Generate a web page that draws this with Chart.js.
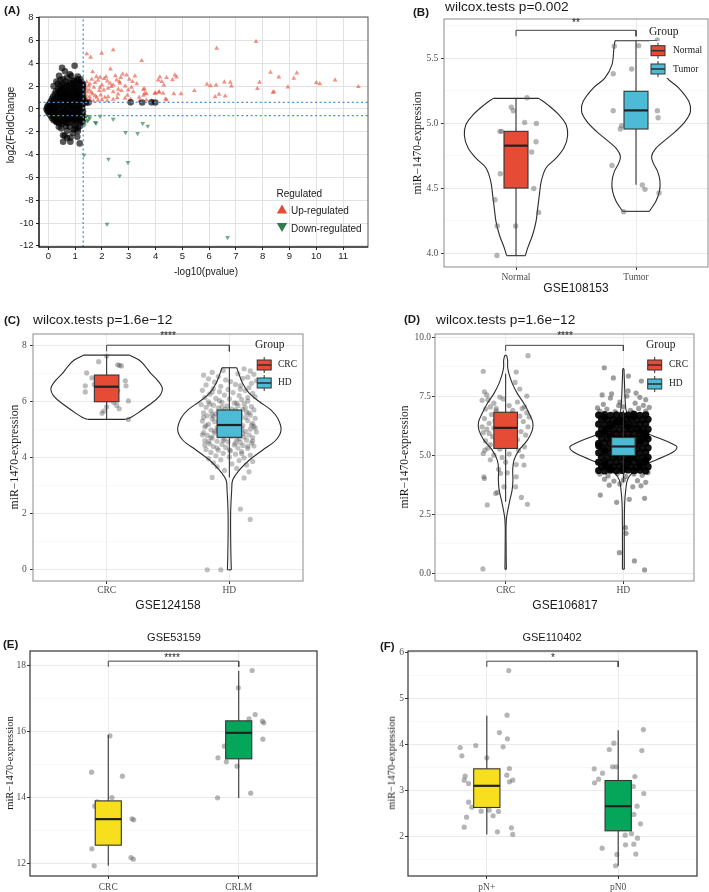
<!DOCTYPE html>
<html><head><meta charset="utf-8">
<script src="https://cdn.jsdelivr.net/npm/chart.js@4.4.1/dist/chart.umd.min.js"></script>
<style>
html,body{margin:0;padding:0;background:#fff}
body{width:709px;height:892px;position:relative;overflow:hidden;font-family:"Liberation Sans",Arial,sans-serif;color:#1a1a1a}
canvas{position:absolute}
.t{position:absolute;white-space:nowrap;line-height:1;transform:translateY(-50%)}
.t.c{transform:translate(-50%,-50%)}
.t.r{transform:translate(-50%,-50%) rotate(-90deg)}
.s{font-family:"Liberation Serif","Times New Roman",serif}
.b{font-weight:bold}
</style></head><body>
<canvas id="cA"></canvas><canvas id="cB"></canvas><canvas id="cC"></canvas>
<canvas id="cD"></canvas><canvas id="cE"></canvas><canvas id="cF"></canvas>

<div class="t b" style="left:4px;top:11px;font-size:11.5px">(A)</div>
<div class="t r" style="left:10.5px;top:125px;font-size:10px">log2(FoldChange</div>
<div class="t c" style="left:206px;top:272px;font-size:10px">-log10(pvalue)</div>
<div class="t" style="left:276.5px;top:193.5px;font-size:10px">Regulated</div>
<div class="t" style="left:291px;top:211px;font-size:10px">Up-regulated</div>
<div class="t" style="left:291px;top:228.5px;font-size:10px">Down-regulated</div>

<div class="t b" style="left:413px;top:13px;font-size:11.5px">(B)</div>
<div class="t" style="left:445px;top:7px;font-size:13.7px">wilcox.tests p=0.002</div>
<div class="t r s" style="left:418px;top:143px;font-size:11.6px">miR−1470-expression</div>
<div class="t c" style="left:576px;top:288px;font-size:12px">GSE108153</div>
<div class="t s" style="left:649px;top:31.5px;font-size:11.5px">Group</div>
<div class="t s" style="left:673px;top:51px;font-size:9.5px">Normal</div>
<div class="t s" style="left:673px;top:69.5px;font-size:9.5px">Tumor</div>
<div class="t c" style="left:576px;top:23px;font-size:10px">**</div>

<div class="t b" style="left:4px;top:321px;font-size:11.5px">(C)</div>
<div class="t" style="left:33px;top:320px;font-size:13.7px">wilcox.tests p=1.6e−12</div>
<div class="t r s" style="left:15px;top:457px;font-size:11.8px">miR−1470-expression</div>
<div class="t c" style="left:168px;top:605px;font-size:12px">GSE124158</div>
<div class="t s" style="left:255px;top:345px;font-size:11.5px">Group</div>
<div class="t s" style="left:278px;top:365px;font-size:9.5px">CRC</div>
<div class="t s" style="left:278px;top:383px;font-size:9.5px">HD</div>
<div class="t c" style="left:168px;top:336px;font-size:10px">****</div>

<div class="t b" style="left:404px;top:320px;font-size:11.5px">(D)</div>
<div class="t" style="left:436px;top:320px;font-size:13.7px">wilcox.tests p=1.6e−12</div>
<div class="t r s" style="left:405px;top:457px;font-size:11.6px">miR−1470-expression</div>
<div class="t c" style="left:565px;top:605px;font-size:12px">GSE106817</div>
<div class="t s" style="left:646px;top:345px;font-size:11.5px">Group</div>
<div class="t s" style="left:669px;top:365px;font-size:9.5px">CRC</div>
<div class="t s" style="left:669px;top:384px;font-size:9.5px">HD</div>
<div class="t c" style="left:565px;top:336px;font-size:10px">****</div>

<div class="t b" style="left:3px;top:645px;font-size:11.5px">(E)</div>
<div class="t c" style="left:174px;top:637px;font-size:11px">GSE53159</div>
<div class="t r s" style="left:10px;top:763px;font-size:10.5px">miR−1470-expression</div>
<div class="t c" style="left:172px;top:658px;font-size:10px">****</div>

<div class="t b" style="left:380px;top:647px;font-size:11.5px">(F)</div>
<div class="t c" style="left:552px;top:637px;font-size:11px">GSE110402</div>
<div class="t r s" style="left:392px;top:763px;font-size:10.5px">miR−1470-expression</div>
<div class="t c" style="left:553px;top:658px;font-size:10px">*</div>

<script>
// ================= DATA =================
// Panel A (volcano): flat [x, y] pairs, x = -log10(p), y = log2(FC)
const xTicksA = [0,1,2,3,4,5,6,7,8,9,10,11];
const yTicksA = [-12,-10,-8,-6,-4,-2,0,2,4,6,8];
const pThreshold = 1.3;
const fcThreshold = 0.585;
const volcanoUp = [
6.28,5.32, 7.75,5.9, 8.29,3.2, 8.6,2.8, 9.27,3.15, 9.16,2.68, 8.94,1.92, 7.88,2.33, 7.8,1.78, 8.38,1.45, 8.42,1.5,
10.0,2.3, 10.13,2.2, 10.7,2.53, 11.57,1.95, 5.92,2.16, 6.05,2.03, 6.26,2.1, 6.57,2.36, 6.79,2.33, 6.83,2.0,
6.37,1.28, 6.22,1.07, 6.6,1.13, 5.45,1.6, 4.95,1.33, 4.68,1.33, 4.72,2.97, 4.78,2.8, 4.63,2.56, 4.41,2.74,
4.16,2.8, 4.1,2.53, 4.23,2.39, 4.31,2.1, 4.0,1.39, 4.13,1.45, 4.41,0.8, 3.59,1.75, 3.66,1.33, 3.48,4.23, 3.55,1.2,
1.43,4.82, 1.58,4.53, 1.99,4.88, 2.42,5.17, 1.65,3.26, 2.32,3.5, 2.77,3.06, 2.92,2.97, 3.23,2.89, 1.93,2.77,
2.08,2.65, 2.15,2.82, 1.79,2.82, 2.55,2.53, 2.65,2.39, 3.02,2.6, 3.14,2.39, 2.3,2.25, 2.42,2.1, 2.67,2.25,
2.87,2.0, 1.43,2.39, 1.55,2.18, 1.74,2.3, 1.4,1.8, 1.53,1.66, 1.7,1.9, 1.93,1.9, 2.07,1.66, 2.23,1.8,
2.42,1.51, 2.61,1.72, 2.73,1.6, 2.98,1.66, 3.1,1.9, 3.17,1.51, 3.54,1.72, 3.6,1.37, 3.97,1.37, 4.13,1.51,
4.28,1.37, 4.37,0.87, 1.4,1.22, 1.53,1.07, 1.65,1.31, 1.8,1.02, 1.95,1.22, 2.11,1.02, 2.23,1.07, 2.42,0.84,
2.57,0.98, 1.37,0.78, 1.45,0.72, 1.55,0.84, 1.68,0.69, 2.86,0.93, 3.07,0.84, 3.39,1.02, 3.66,0.78, 3.85,0.72,
3.91,0.62, 1.45,1.5, 1.6,1.45, 1.5,2.0, 1.62,2.6, 1.85,2.5, 2.0,2.1, 2.2,2.45, 2.5,2.9, 2.7,2.75, 2.35,1.95,
1.9,1.6, 1.75,1.15, 1.4,0.95, 2.0,0.8, 2.6,1.3, 2.95,1.2, 3.3,2.2, 3.4,0.7, 2.2,0.7, 1.85,0.75
];
const volcanoDown = [
1.42,-0.62, 1.5,-0.66, 1.48,-0.97, 1.35,-1.41, 1.45,-1.06, 1.75,-1.18, 1.93,-0.64, 2.42,-0.89, 2.88,-2.05,
3.33,-2.14, 3.52,-1.26, 3.71,-1.5, 1.33,-4.04, 2.24,-4.39, 2.97,-4.68, 2.66,-5.86, 2.19,-10.1, 6.69,-11.26,
1.55,-0.78, 1.78,-1.25
];
const volcanoNS = [
-0.07,0.0, -0.04,0.18, -0.04,-0.16, 0.0,0.32, 0.0,-0.3, 0.02,0.08, 0.03,-0.1, 0.05,0.48, 0.05,-0.47, 0.07,0.22,
0.08,-0.25, 0.09,0.68, 0.1,-0.62, 0.11,0.02, 0.12,0.38, 0.13,-0.4, 0.14,0.88, 0.14,-0.82, 0.16,0.15, 0.17,-0.12,
0.18,0.55, 0.18,1.08, 0.2,-0.55, 0.2,-0.98, 0.21,0.3, 0.22,0.78, 0.23,-0.28, 0.24,1.3, 0.25,0.05, 0.26,-0.72,
0.27,0.48, 0.28,1.55, 0.29,-0.45, 0.3,0.95, 0.31,-1.15, 0.32,0.2, 0.33,1.2, 0.34,-0.15, 0.35,0.65, 0.36,1.75,
0.37,-0.88, 0.38,0.38, 0.4,1.45, 0.41,-0.5, 0.42,0.05, 0.43,0.85, 0.44,2.0, 0.45,-0.3, 0.46,1.1, 0.47,-0.72,
0.48,0.55, 0.5,1.7, 0.5,-1.05, 0.52,0.25, 0.53,1.3, 0.54,-0.48, 0.55,0.8, 0.56,2.2, 0.57,-0.25, 0.58,1.55,
0.6,0.45, 0.6,-0.75, 0.62,1.05, 0.63,1.9, 0.64,-0.5, 0.66,0.68, 0.67,1.4, 0.68,-0.95, 0.7,2.1, 0.7,0.9,
0.72,-0.42, 0.73,1.65, 0.75,0.6, 0.76,1.25, 0.78,-0.65, 0.8,2.3, 0.8,0.82, 0.82,1.5, 0.84,-0.45, 0.85,1.05,
0.87,1.85, 0.88,0.68, 0.9,-0.58, 0.9,2.5, 0.92,1.3, 0.94,0.85, 0.95,2.05, 0.97,-0.42, 0.98,1.6, 1.0,0.7,
1.0,2.3, 1.02,1.15, 1.04,-0.55, 1.05,1.85, 1.07,0.9, 1.08,2.6, 1.1,1.4, 1.12,-0.45, 1.13,0.72, 1.14,2.1,
1.16,1.2, 1.17,1.75, 1.19,-0.6, 1.2,0.85, 1.21,2.35, 1.23,1.5, 1.24,0.65, 1.26,-0.48, 1.27,1.05, 1.28,2.0,
1.29,1.7, 1.3,0.75,
0.55,0.1, 0.6,-0.15, 0.65,0.3, 0.7,0.05, 0.72,-0.25, 0.78,0.2, 0.8,-0.1, 0.85,0.35, 0.88,0.0, 0.92,-0.25,
0.95,0.2, 1.0,-0.05, 1.02,0.35, 1.06,0.1, 1.1,-0.2, 1.13,0.25, 1.17,0.0, 1.2,-0.3, 1.23,0.3, 1.26,0.05,
1.29,-0.2, 0.5,-0.35, 0.66,-0.4, 0.9,0.45, 1.15,0.45, 0.75,0.42, 1.05,-0.38, 1.28,0.4,
0.38,1.0, 0.45,1.35, 0.52,0.95, 0.58,1.8, 0.64,0.8, 0.69,1.2, 0.74,2.0, 0.79,1.0, 0.83,1.75, 0.86,2.2,
0.89,1.15, 0.93,1.55, 0.96,0.95, 0.99,1.9, 1.03,1.35, 1.06,2.45, 1.09,1.05, 1.11,1.6, 1.15,0.95, 1.18,2.2,
1.22,1.25, 1.25,1.85, 1.28,1.4, 1.3,2.15, 1.3,0.95, 0.6,1.25, 0.5,2.05, 0.42,1.6, 0.56,1.05, 0.71,1.55,
0.6,-0.55, 0.7,-0.7, 0.85,-0.6, 0.95,-0.7, 1.05,-0.8, 1.15,-0.6, 1.25,-0.9, 0.8,-0.85, 0.65,-1.2, 0.9,-1.0,
1.1,-1.0, 1.3,-0.6,
0.51,3.6, 0.98,3.79, 0.8,3.03, 0.62,3.3, 0.4,2.9, 0.55,2.6, 0.7,2.75, 0.85,2.9, 0.95,2.45, 1.1,2.85,
1.2,2.6, 0.3,2.4, 0.2,2.0, 0.65,2.4, 1.25,2.3, 0.35,2.2, 0.45,2.55,
0.3,-1.12, 0.48,-1.7, 0.55,-2.3, 0.55,-2.87, 0.82,-2.87, 0.61,-2.35, 0.83,-2.5, 1.08,-2.44, 1.17,-3.02, 1.1,-1.7,
1.1,-1.94, 0.98,-1.41, 0.73,-1.26, 0.39,-1.56, 0.5,-1.3, 0.65,-1.5, 0.7,-1.9, 0.9,-1.2, 0.95,-1.8, 1.0,-0.95,
1.15,-0.8, 1.2,-1.2, 1.25,-0.72, 0.75,-0.95, 0.88,-0.78, 1.05,-1.15, 0.45,-1.05, 1.18,-1.5, 1.28,-1.1, 0.92,-2.1,
0.7,-2.55, 0.58,-1.1, 0.8,-1.55, 1.02,-1.7, 1.22,-0.95, 0.4,-1.25, 0.25,-0.95,
1.4,0.55, 1.5,0.56, 3.07,0.58, 3.5,0.57, 3.85,0.58, 3.99,0.56
];

// Panel B (GSE108153)
const groupsB = ['Normal','Tumor'];
const yTicksB = [4.0,4.5,5.0,5.5];
const yLabelsB = ['4.0','4.5','5.0','5.5'];
const pointsNormalB = [1.092,5.195, 0.961,5.121, 0.978,5.095, 1.072,5.005, 1.17,4.997, 0.866,4.936, 0.88,4.936, 1.167,4.856,
 1.131,4.777, 0.869,4.61, 1.148,4.497, 0.825,4.41, 1.189,4.313, 0.844,4.208, 0.997,4.208, 0.841,3.982];
const pointsTumorB = [1.819,5.59, 2.022,5.595, 2.178,5.638, 1.81,5.379, 1.964,5.415, 1.81,5.095, 2.178,5.095, 2.184,5.041,
 1.88,4.979, 1.869,4.954, 1.8,4.674, 2.053,4.523, 2.075,4.49, 2.192,4.462, 1.897,4.318];
// box stats: [lower whisker, Q1, median, Q3, upper whisker]
const boxNormalB = [3.98,4.5,4.826,4.936,5.19];
const boxTumorB = [4.526,4.954,5.097,5.244,5.633];
// violin outlines: [y, half-width]
const violinNormalB = [[5.19,0.19],[5.14,0.265],[5.064,0.357],[4.987,0.418],[4.9,0.43],[4.81,0.4],[4.73,0.334],[4.654,0.25],
 [4.55,0.21],[4.449,0.195],[4.346,0.181],[4.244,0.167],[4.141,0.139],[4.038,0.097],[3.98,0.078]];
const violinTumorB = [[5.633,0.175],[5.577,0.184],[5.449,0.2],[5.346,0.26],[5.269,0.357],[5.167,0.44],[5.09,0.454],[5.013,0.41],
 [4.936,0.33],[4.859,0.23],[4.8,0.16],[4.744,0.13],[4.69,0.145],[4.628,0.18],[4.551,0.2],[4.474,0.195],[4.397,0.165],[4.321,0.111]];
const bracketB = [5.667,5.713];

// Panel C (GSE124158)
const groupsC = ['CRC','HD'];
const yTicksC = [0,2,4,6,8];
const yLabelsC = ['0','2','4','6','8'];
const pointsCrcC = [1.0,7.63, 0.935,7.43, 1.09,7.32, 1.105,7.3, 0.837,7.03, 1.152,6.75, 0.826,6.57, 1.158,6.57, 0.826,6.35,
 1.09,6.4, 1.177,6.03, 1.057,5.97, 1.082,5.87, 1.103,5.75, 1.0,5.82, 0.962,5.59, 1.177,5.37, 0.976,5.67, 0.9,6.62,
 0.95,6.25, 1.05,6.78, 0.88,6.85, 1.12,7.28, 1.03,6.1];
const pointsHdC = [
2.12,7.18, 2.17,7.1, 1.86,7.05, 1.95,7.12, 2.2,6.98, 1.79,6.95, 1.91,6.9, 2.07,7.0, 2.15,6.88, 1.83,6.82, 1.97,6.78,
2.11,6.84, 2.22,6.75, 1.88,6.7, 2.01,6.72, 2.05,6.62, 2.18,6.66, 1.81,6.6, 1.93,6.55, 2.09,6.58, 2.16,6.5, 1.87,6.47,
1.99,6.44, 2.13,6.4, 1.78,6.41, 1.92,6.36, 2.03,6.33, 2.19,6.3, 1.84,6.27, 1.96,6.24, 2.08,6.22, 2.21,6.18, 1.8,6.15,
1.89,6.12, 2.0,6.1, 2.1,6.08, 2.15,6.02, 1.83,6.0, 1.94,5.98, 2.04,5.96, 2.12,5.93, 1.77,5.9, 1.87,5.88, 1.98,5.85,
2.07,5.86, 2.18,5.83, 1.81,5.8, 1.91,5.78, 2.02,5.75, 2.11,5.73, 2.2,5.71, 1.85,5.68, 1.95,5.66, 2.06,5.64, 2.14,5.62,
1.79,5.6, 1.89,5.58, 1.99,5.55, 2.09,5.54, 2.17,5.52, 1.82,5.5, 1.92,5.47, 2.03,5.45, 2.13,5.44, 2.21,5.41, 1.86,5.39,
1.96,5.37, 2.05,5.35, 2.15,5.33, 1.78,5.31, 1.88,5.29, 1.98,5.27, 2.08,5.25, 2.19,5.23, 1.83,5.2, 1.93,5.18, 2.01,5.16,
2.11,5.15, 2.2,5.12, 1.8,5.1, 1.9,5.08, 2.0,5.06, 2.1,5.04, 2.17,5.02, 1.85,5.0, 1.95,4.98, 2.04,4.96, 2.13,4.94,
2.22,4.92, 1.79,4.9, 1.88,4.88, 1.97,4.86, 2.07,4.84, 2.16,4.82, 1.82,4.8, 1.92,4.78, 2.02,4.76, 2.12,4.74, 2.19,4.72,
1.86,4.7, 1.96,4.67, 2.06,4.65, 2.14,4.63, 1.8,4.61, 1.9,4.59, 1.99,4.57, 2.09,4.55, 2.18,4.53, 1.84,4.5, 1.94,4.48,
2.04,4.46, 2.11,4.44, 2.2,4.42, 1.87,4.4, 1.97,4.37, 2.07,4.35, 2.15,4.33, 1.81,4.3, 1.91,4.27, 2.01,4.25, 2.1,4.22,
1.85,4.19, 1.95,4.16, 2.05,4.13, 2.17,4.1, 1.89,4.07, 2.0,4.03, 2.12,4.0, 1.83,3.97, 1.93,3.93, 2.08,3.9, 2.19,3.87,
1.87,3.82, 2.02,3.78, 2.14,3.74, 1.9,3.68, 2.06,3.62, 1.96,3.55, 2.16,3.5, 1.86,3.3, 2.12,3.28,
1.84,5.92, 1.94,5.81, 2.05,5.71, 2.16,5.6, 1.87,5.48, 1.97,5.43, 2.07,5.32, 2.18,5.17, 1.81,5.15, 1.91,5.02, 2.02,4.93,
2.11,4.87, 1.85,4.73, 1.95,4.62, 2.05,4.52, 2.15,4.41, 1.8,4.45, 1.9,4.35, 2.0,4.28, 2.1,4.15, 1.86,5.55, 2.0,5.62,
2.09,5.4, 1.93,5.25, 2.03,5.1, 1.88,4.95, 1.98,4.82, 2.08,4.69, 1.83,4.58, 2.13,5.78, 1.79,5.44, 2.21,5.06, 1.78,4.82,
2.19,4.6, 1.92,6.04, 2.06,5.95, 1.97,5.73, 2.15,6.15, 1.86,6.35, 2.09,6.45,
2.09,2.17, 2.17,1.8, 1.82,0.0, 1.93,0.0];
const boxCrcC = [5.372,6.0,6.537,6.954,7.667];
const boxHdC = [3.3,4.73,5.17,5.705,7.215];
const violinCrcC = [[7.667,0.185],[7.489,0.264],[7.25,0.318],[7.013,0.36],[6.775,0.413],[6.478,0.454],[6.181,0.427],
 [5.883,0.345],[5.586,0.25],[5.45,0.2],[5.372,0.155]];
const violinHdC = [[7.215,0.06],[7.013,0.076],[6.656,0.109],[6.3,0.163],[6.002,0.245],[5.705,0.34],[5.408,0.394],[4.992,0.421],
 [4.635,0.38],[4.278,0.272],[3.922,0.163],[3.565,0.082],[3.208,0.027],[2.851,0.019],[2.138,0.011],[1.425,0.01],[0.473,0.013],[0.0,0.016]];
const bracketC = [7.8,8.02];

// Panel D (GSE106817)
const groupsD = ['CRC','HD'];
const yTicksD = [0,2.5,5,7.5,10];
const yLabelsD = ['0.0','2.5','5.0','7.5','10.0'];
const pointsCrcD = [0.807,0.18, 1.19,9.21, 0.81,8.55, 1.09,8.52, 1.08,8.08, 0.82,7.68, 0.8,7.32, 0.95,7.46, 0.87,7.04, 1.14,6.97,
 1.2,6.62, 0.8,6.2, 0.86,5.92, 0.85,7.35, 0.9,7.2, 0.98,7.38, 1.03,7.1, 1.1,7.25, 1.16,7.05, 0.83,6.95, 0.92,6.88,
 1.06,6.9, 1.18,6.8, 0.88,6.72, 0.96,6.6, 1.12,6.65, 0.82,6.55, 0.91,6.45, 1.04,6.5, 1.15,6.42, 0.86,6.35, 0.99,6.3,
 1.08,6.25, 1.19,6.2, 0.84,6.1, 0.94,6.05, 1.13,6.0, 0.81,5.95, 1.02,5.9, 1.17,5.85, 0.89,5.78, 0.97,5.7, 1.1,5.65,
 0.83,5.6, 0.93,5.5, 1.06,5.45, 1.16,5.35, 0.85,5.3, 0.95,5.25, 1.11,5.2, 0.824,5.21, 0.81,5.07, 0.9,5.0, 1.03,5.05,
 1.14,4.95, 0.87,4.8, 1.0,4.7, 1.09,4.6, 1.156,4.58, 0.94,4.4, 0.815,4.08, 0.82,4.01, 0.957,4.23, 1.014,4.25, 1.09,4.08,
 0.915,3.38, 0.93,3.42, 1.134,3.21, 0.844,2.89, 1.185,2.92, 1.085,3.66, 0.986,3.66, 0.92,6.98, 1.05,6.75, 0.98,5.55,
 1.07,5.8, 0.9,6.15, 1.01,6.4, 0.87,5.45, 1.18,7.5, 0.84,7.55, 1.12,7.8, 0.97,4.9];
const pointsHdCoreD = [
1.79,6.7, 1.84,6.72, 1.89,6.69, 1.94,6.71, 1.99,6.68, 2.04,6.7, 2.09,6.73, 2.14,6.69, 2.19,6.71,
1.815,6.52, 1.865,6.49, 1.915,6.51, 1.965,6.48, 2.015,6.5, 2.065,6.53, 2.115,6.49, 2.165,6.5, 2.21,6.52,
1.79,6.31, 1.84,6.28, 1.89,6.3, 1.94,6.32, 1.99,6.29, 2.04,6.31, 2.09,6.28, 2.14,6.3, 2.19,6.33,
1.815,6.09, 1.865,6.12, 1.915,6.1, 1.965,6.08, 2.015,6.11, 2.065,6.1, 2.115,6.12, 2.165,6.09, 2.21,6.1,
1.79,5.9, 1.84,5.92, 1.89,5.89, 1.94,5.91, 1.99,5.88, 2.04,5.9, 2.09,5.93, 2.14,5.89, 2.19,5.91,
1.815,5.71, 1.865,5.69, 1.915,5.72, 1.965,5.7, 2.015,5.68, 2.065,5.71, 2.115,5.7, 2.165,5.72, 2.21,5.69,
1.79,5.5, 1.84,5.52, 1.89,5.49, 1.94,5.51, 1.99,5.5, 2.04,5.48, 2.09,5.51, 2.14,5.5, 2.19,5.52,
1.815,5.31, 1.865,5.29, 1.915,5.3, 1.965,5.32, 2.015,5.29, 2.065,5.31, 2.115,5.28, 2.165,5.3, 2.21,5.31,
1.79,5.1, 1.84,5.12, 1.89,5.09, 1.94,5.11, 1.99,5.1, 2.04,5.08, 2.09,5.11, 2.14,5.1, 2.19,5.12,
1.815,4.91, 1.865,4.89, 1.915,4.9, 1.965,4.92, 2.015,4.89, 2.065,4.91, 2.115,4.88, 2.165,4.9, 2.21,4.91,
1.79,4.7, 1.84,4.72, 1.89,4.69, 1.94,4.71, 1.99,4.7, 2.04,4.68, 2.09,4.71, 2.14,4.7, 2.19,4.72,
1.815,4.51, 1.865,4.49, 1.915,4.5, 1.965,4.52, 2.015,4.49, 2.065,4.51, 2.115,4.48, 2.165,4.5, 2.21,4.51,
1.79,4.35, 1.84,4.33, 1.89,4.36, 1.94,4.34, 1.99,4.35, 2.04,4.37, 2.09,4.34, 2.14,4.36, 2.19,4.33,
1.84,6.6, 1.94,6.4, 2.04,6.2, 2.14,6.0, 1.89,5.8, 1.99,5.6, 2.09,5.4, 1.84,5.2, 1.94,5.0, 2.04,4.8, 2.14,4.6, 1.89,4.42,
2.09,6.62, 1.99,6.42, 1.89,6.2, 1.84,6.0, 2.19,5.8, 2.14,5.6, 1.79,5.4, 1.99,5.22, 2.09,5.0, 2.19,4.8, 1.84,4.6, 2.0,4.42];
const pointsHdOuterD = [
1.838,8.7, 1.915,8.27, 2.043,8.35, 2.153,8.14, 1.9,7.6, 2.04,7.72, 2.108,7.63, 2.17,7.11, 1.83,7.15, 1.97,7.25, 2.1,7.2,
2.19,7.35, 1.89,7.42, 2.03,7.5, 1.82,7.55, 2.14,7.45, 1.78,7.0, 1.86,6.95, 1.93,6.84, 2.0,7.05, 2.06,6.9, 2.13,6.98,
2.19,6.86, 2.22,7.02, 1.8,6.86, 1.96,7.1, 2.08,6.8,
1.8,4.2, 1.87,4.12, 1.95,4.22, 2.02,4.1, 2.09,4.2, 2.16,4.15, 2.21,4.26, 1.84,3.98, 1.92,3.9, 2.0,3.95, 2.12,3.92,
2.19,3.85, 1.88,3.73, 2.08,3.66, 1.97,3.78, 2.15,3.7, 1.804,3.31, 1.943,3.0, 2.05,3.13, 2.18,3.17, 2.017,1.93,
2.023,1.69, 1.966,0.87, 2.094,0.52, 2.18,0.14];
const boxCrcD = [3.03,5.282,6.155,6.817,8.45];
const boxHdD = [3.85,4.986,5.366,5.746,6.9];
const violinCrcD = [[9.225,0.008],[9.014,0.017],[8.732,0.017],[8.451,0.028],[8.028,0.057],[7.606,0.1],[7.183,0.156],[6.761,0.2],
 [6.408,0.23],[6.056,0.227],[5.634,0.185],[5.211,0.114],[4.789,0.071],[4.366,0.06],[3.944,0.062],[3.521,0.055],[2.958,0.03],
 [2.254,0.006],[1.127,0.004],[0.169,0.006]];
const violinHdD = [[8.662,0.005],[7.465,0.014],[7.183,0.017],[6.901,0.023],[6.62,0.043],[6.268,0.085],[5.986,0.17],[5.704,0.31],
 [5.493,0.41],[5.352,0.455],[5.141,0.426],[4.93,0.34],[4.718,0.24],[4.507,0.142],[4.225,0.071],[3.944,0.034],[3.521,0.02],
 [2.958,0.011],[1.831,0.008],[0.169,0.008]];
const bracketD = [9.41,9.65];

// Panel E (GSE53159)
const groupsE = ['CRC','CRLM'];
const yTicksE = [12,14,16,18];
const yLabelsE = ['12','14','16','18'];
const pointsCrcE = [1.013,15.875, 0.872,14.772, 1.108,14.651, 1.028,14.003, 0.915,13.87, 0.897,13.74, 1.182,13.356, 1.195,13.325,
 0.874,12.445, 1.174,12.182, 1.192,12.131, 0.892,11.929];
const pointsCrlmE = [2.103,17.858, 1.997,17.332, 2.126,16.523, 2.079,16.391, 2.182,16.32, 2.192,16.27, 2.185,15.774, 1.89,15.561,
 1.841,15.207, 1.905,15.086, 1.987,14.955, 2.092,14.135, 1.838,13.993];
const boxCrcE = [11.93,12.556,13.346,13.9,15.9];
const boxCrlmE = [13.99,15.177,15.966,16.33,17.84];
const bracketE = [17.97,18.142];

// Panel F (GSE110402)
const groupsF = ['pN+','pN0'];
const yTicksF = [2,3,4,5,6];
const yLabelsF = ['2','3','4','5','6'];
const pointsPosF = [1.167,5.609, 1.154,4.64, 1.096,4.264, 1.157,4.127, 0.797,3.939, 0.916,3.982, 1.124,3.953, 0.81,3.758, 1.0,3.714,
 1.172,3.483, 1.152,3.338, 0.835,3.317, 0.828,3.23, 1.197,3.23, 1.172,3.194, 0.861,3.157, 0.861,2.752, 0.886,2.644, 0.957,2.557,
 1.018,2.579, 1.089,2.55, 1.048,2.456, 0.846,2.427, 0.828,2.21, 1.187,2.195, 1.081,2.108, 1.197,2.051];
const pointsNegF = [2.192,4.329, 1.967,4.033, 1.932,3.895, 2.18,3.873, 1.985,3.519, 1.957,3.519, 1.818,3.476, 1.881,3.382, 1.851,3.251,
 1.82,3.172, 2.127,3.309, 2.116,3.092, 2.195,2.94, 2.144,2.665, 2.119,2.485, 2.17,2.282, 2.101,2.072, 2.053,2.036, 2.147,1.971,
 2.119,1.841, 2.056,1.826, 1.878,1.754, 1.99,1.617, 2.134,1.624, 1.98,1.371];
const boxPosF = [2.051,2.637,3.107,3.476,4.626];
const boxNegF = [1.371,2.13,2.665,3.222,4.315];
const bracketF = [5.689,5.812];

// ================= RENDERING =================
const SANS = "'Liberation Sans', Arial, sans-serif";
const SERIF = "'Liberation Serif', 'Times New Roman', serif";
const RED = '#E64B35', BLUE = '#4DBBD5', YELLOW = '#F7DF1E', GREEN = '#05A65A';

function pairs(a){ const o=[]; for(let i=0;i<a.length;i+=2) o.push({x:a[i],y:a[i+1]}); return o; }

function place(id,L,T,R,B,wy,hx){
  const padT=10,padR=8;
  const cv=document.getElementById(id);
  const left=L-wy, top=T-padT, w=R+padR-left, h=B+hx-top;
  cv.width=w; cv.height=h;
  cv.style.left=left+'px'; cv.style.top=top+'px'; cv.style.width=w+'px'; cv.style.height=h+'px';
  return {cv,left,top,wy,hx,padT,padR};
}

let extraCount=0;
function extras(cfg){
  extraCount++;
  return {
    id:'extras'+extraCount,
    afterDatasetsDraw(chart){
      const {ctx, scales:{x,y}} = chart;
      ctx.save();
      (cfg.boxes||[]).forEach(b=>{
        const xc=x.getPixelForValue(b.pos), x0=x.getPixelForValue(b.pos-0.1), x1=x.getPixelForValue(b.pos+0.1);
        const [lo,q1,md,q3,hi]=b.stats.map(v=>y.getPixelForValue(v));
        ctx.strokeStyle='#333'; ctx.lineWidth=1.1;
        ctx.beginPath(); ctx.moveTo(xc,lo); ctx.lineTo(xc,q1); ctx.moveTo(xc,q3); ctx.lineTo(xc,hi); ctx.stroke();
        ctx.fillStyle=b.color; ctx.fillRect(x0,q3,x1-x0,q1-q3); ctx.strokeRect(x0,q3,x1-x0,q1-q3);
        ctx.lineWidth=2.2; ctx.strokeStyle='#222';
        ctx.beginPath(); ctx.moveTo(x0,md); ctx.lineTo(x1,md); ctx.stroke();
      });
      ctx.restore();
    },
    afterDraw(chart){
      const {ctx, chartArea:a} = chart;
      const ox=cfg.origin[0], oy=cfg.origin[1];
      ctx.save();
      if(cfg.legendBg){ const r=cfg.legendBg; ctx.fillStyle='#fff'; ctx.fillRect(r[0]-ox,r[1]-oy,r[2],r[3]); }
      ctx.strokeStyle=cfg.borderColor; ctx.lineWidth=cfg.borderWidth;
      ctx.strokeRect(a.left,a.top,a.right-a.left,a.bottom-a.top);
      if(cfg.axisColor){
        ctx.strokeStyle=cfg.axisColor; ctx.lineWidth=1.1;
        ctx.beginPath(); ctx.moveTo(a.left,a.top); ctx.lineTo(a.left,a.bottom); ctx.lineTo(a.right,a.bottom); ctx.stroke();
      }
      (cfg.keys||[]).forEach(k=>{
        const cx=k.x-ox, cy=k.y-oy;
        ctx.strokeStyle='#333'; ctx.lineWidth=1;
        ctx.beginPath(); ctx.moveTo(cx,cy-8); ctx.lineTo(cx,cy-5); ctx.moveTo(cx,cy+5); ctx.lineTo(cx,cy+8); ctx.stroke();
        ctx.fillStyle=k.color; ctx.fillRect(cx-7,cy-5,14,10); ctx.strokeRect(cx-7,cy-5,14,10);
        ctx.lineWidth=1.6; ctx.beginPath(); ctx.moveTo(cx-7,cy); ctx.lineTo(cx+7,cy); ctx.stroke();
      });
      (cfg.tris||[]).forEach(t=>{
        const cx=t.x-ox, cy=t.y-oy, s=t.down?-1:1;
        ctx.fillStyle=t.color; ctx.beginPath();
        ctx.moveTo(cx, cy-5.5*s); ctx.lineTo(cx+5.2, cy+3.5*s); ctx.lineTo(cx-5.2, cy+3.5*s); ctx.closePath(); ctx.fill();
      });
      ctx.restore();
    }
  };
}

function baseOptions(p, xs, ys){
  return {
    responsive:false, animation:false, devicePixelRatio:1,
    layout:{padding:{top:p.padT,right:p.padR,left:0,bottom:0}},
    plugins:{legend:{display:false}, tooltip:{enabled:false}},
    scales:{
      x:Object.assign({}, xs, {afterFit(s){ s.height=p.hx; }}),
      y:Object.assign({}, ys, {afterFit(s){ s.width=p.wy; }})
    }
  };
}

function catX(cats, pad){
  return { type:'linear', min:0.4, max:2.6,
    afterBuildTicks(s){ s.ticks = cats.map((c,i)=>({value:i+1})); },
    ticks:{ autoSkip:false, maxRotation:0, padding:pad, color:'#4D4D4D', font:{family:SERIF,size:9.5},
      callback:(v,i)=>cats[i] },
    grid:{ color:'#EBEBEB', lineWidth:1, tickLength:3, tickColor:'#333' },
    border:{ display:false } };
}

function numY(min,max,majors,labels,pad){
  const step=majors[1]-majors[0];
  const minors=[];
  for(let i=0;i<majors.length-1;i++) minors.push((majors[i]+majors[i+1])/2);
  if(majors[0]-step/2>=min) minors.push(majors[0]-step/2);
  if(majors[majors.length-1]+step/2<=max) minors.push(majors[majors.length-1]+step/2);
  const all=majors.concat(minors).sort((a,b)=>a-b);
  const isMaj=c=>c.tick && majors.indexOf(c.tick.value)>=0;
  return { type:'linear', min, max,
    afterBuildTicks(s){ s.ticks = all.map(v=>({value:v})); },
    ticks:{ autoSkip:false, padding:pad, color:'#4D4D4D', font:{family:SERIF,size:9.5},
      callback:(v)=>{ const k=majors.indexOf(v); return k<0?'':labels[k]; } },
    grid:{ color:c=>isMaj(c)?'#EAEAEA':'#F3F3F3', lineWidth:c=>isMaj(c)?1:0.6, tickLength:3,
      tickColor:c=>isMaj(c)?'#333':'rgba(0,0,0,0)' },
    border:{ display:false } };
}

function violinSets(center, v){
  const st={showLine:true, borderColor:'#2b2b2b', borderWidth:1.1, pointRadius:0, fill:false, order:5};
  const n=v.length-1;
  return [
    Object.assign({}, st, {data:v.map(([y,w])=>({x:center+w,y})), tension:0.35}),
    Object.assign({}, st, {data:v.map(([y,w])=>({x:center-w,y})), tension:0.35}),
    Object.assign({}, st, {data:[{x:center-v[0][1],y:v[0][0]},{x:center+v[0][1],y:v[0][0]}], tension:0}),
    Object.assign({}, st, {data:[{x:center-v[n][1],y:v[n][0]},{x:center+v[n][1],y:v[n][0]}], tension:0})
  ];
}

function boxPanel(o){
  const p=place(o.id,o.L,o.T,o.R,o.B,o.wy,o.hx);
  const ds=[];
  (o.violins||[]).forEach((v,i)=>ds.push(...violinSets(i+1,v)));
  o.points.forEach((pts,i)=>ds.push({data:pairs(pts), pointRadius:o.pr[i], pointBackgroundColor:o.pc[i],
    pointBorderWidth:0, order:3}));
  ds.push({data:[{x:1,y:o.bracket[0]},{x:1,y:o.bracket[1]},{x:2,y:o.bracket[1]},{x:2,y:o.bracket[0]}],
    showLine:true, borderColor:'#444', borderWidth:1, pointRadius:0, tension:0, order:1});
  new Chart(p.cv,{type:'scatter', data:{datasets:ds},
    options:baseOptions(p, catX(o.groups,o.xpad), numY(o.ymin,o.ymax,o.ticks,o.labels,o.ypad)),
    plugins:[extras({origin:[p.left,p.top], boxes:o.boxes, keys:o.keys, legendBg:o.legendBg,
      borderColor:o.borderColor, borderWidth:o.borderWidth})]});
}

// ---- Panel A ----
(function(){
  const p=place('cA',39,17,368,247,39,30);
  const yMin=-12.1, yMax=8.06, xMin=-0.35, xMax=11.93;
  const dash={showLine:true, borderColor:'#4A90D9', borderWidth:1.3, borderDash:[2,2.6], pointRadius:0, tension:0, order:0};
  const ds=[
    Object.assign({}, dash, {data:[{x:pThreshold,y:yMin},{x:pThreshold,y:yMax}]}),
    Object.assign({}, dash, {data:[{x:xMin,y:fcThreshold},{x:xMax,y:fcThreshold}]}),
    Object.assign({}, dash, {data:[{x:xMin,y:-fcThreshold},{x:xMax,y:-fcThreshold}]}),
    {data:pairs(volcanoUp), pointStyle:'triangle', pointRadius:2.8, pointBackgroundColor:'rgba(230,75,53,0.6)', pointBorderWidth:0, order:3},
    {data:pairs(volcanoDown), pointStyle:'triangle', pointRotation:180, pointRadius:2.8, pointBackgroundColor:'rgba(30,120,70,0.62)', pointBorderWidth:0, order:3},
    {data:pairs(volcanoNS), pointRadius:3.3, pointBackgroundColor:'rgba(0,0,0,0.66)', pointBorderWidth:0, order:2}
  ];
  const xs={ type:'linear', min:xMin, max:xMax,
    afterBuildTicks(s){ s.ticks=xTicksA.map(v=>({value:v})); },
    ticks:{autoSkip:false, maxRotation:0, padding:1, color:'#222', font:{family:SANS,size:9.5}},
    grid:{color:'#E2E2E2', lineWidth:1, tickLength:3, tickColor:'#222'}, border:{display:false} };
  const ys={ type:'linear', min:yMin, max:yMax,
    afterBuildTicks(s){ s.ticks=yTicksA.map(v=>({value:v})); },
    ticks:{autoSkip:false, padding:2.5, color:'#222', font:{family:SANS,size:9.5}},
    grid:{color:'#E2E2E2', lineWidth:1, tickLength:3, tickColor:'#222'}, border:{display:false} };
  new Chart(p.cv,{type:'scatter', data:{datasets:ds}, options:baseOptions(p,xs,ys),
    plugins:[extras({origin:[p.left,p.top], borderColor:'#555', borderWidth:1, axisColor:'#000',
      tris:[{x:282,y:210,color:'#E64B35'},{x:282,y:226.5,color:'#2E7D4F',down:true}]})]});
})();

// ---- Panel B ----
boxPanel({id:'cB', L:444,T:19,R:708,B:267, wy:40, hx:20, ymin:3.893, ymax:5.80, ticks:yTicksB, labels:yLabelsB,
  groups:groupsB, xpad:1.5, ypad:2.7, violins:[violinNormalB, violinTumorB],
  points:[pointsNormalB, pointsTumorB], pr:[2.7,2.7], pc:['rgba(90,90,90,0.45)','rgba(90,90,90,0.45)'],
  boxes:[{pos:1,stats:boxNormalB,color:RED},{pos:2,stats:boxTumorB,color:BLUE}], bracket:bracketB,
  keys:[{x:658,y:50.7,color:RED},{x:658,y:69,color:BLUE}], legendBg:[649,41,58,37],
  borderColor:'#8C8C8C', borderWidth:1});

// ---- Panel C ----
boxPanel({id:'cC', L:33,T:334,R:303,B:581, wy:33, hx:22, ymin:-0.40, ymax:8.42, ticks:yTicksC, labels:yLabelsC,
  groups:groupsC, xpad:0.5, ypad:3.3, violins:[violinCrcC, violinHdC],
  points:[pointsCrcC, pointsHdC], pr:[2.6,2.6], pc:['rgba(60,60,60,0.35)','rgba(60,60,60,0.32)'],
  boxes:[{pos:1,stats:boxCrcC,color:RED},{pos:2,stats:boxHdC,color:BLUE}], bracket:bracketC,
  keys:[{x:264.2,y:365,color:RED},{x:264.2,y:383,color:BLUE}],
  borderColor:'#8C8C8C', borderWidth:1});

// ---- Panel D ----
boxPanel({id:'cD', L:435,T:334,R:694,B:581, wy:35, hx:22, ymin:-0.33, ymax:10.13, ticks:yTicksD, labels:yLabelsD,
  groups:groupsD, xpad:0.5, ypad:1, violins:[violinCrcD, violinHdD],
  points:[pointsCrcD, pointsHdCoreD, pointsHdOuterD], pr:[2.6,3.6,2.6],
  pc:['rgba(60,60,60,0.38)','rgba(0,0,0,0.93)','rgba(40,40,40,0.45)'],
  boxes:[{pos:1,stats:boxCrcD,color:RED},{pos:2,stats:boxHdD,color:BLUE}], bracket:bracketD,
  keys:[{x:654.7,y:365,color:RED},{x:654.7,y:384,color:BLUE}],
  borderColor:'#8C8C8C', borderWidth:1});

// ---- Panel E ----
boxPanel({id:'cE', L:30,T:651,R:317,B:876, wy:30, hx:16, ymin:11.62, ymax:18.45, ticks:yTicksE, labels:yLabelsE,
  groups:groupsE, xpad:2.3, ypad:1, violins:[],
  points:[pointsCrcE, pointsCrlmE], pr:[2.6,2.6], pc:['rgba(90,90,90,0.45)','rgba(90,90,90,0.45)'],
  boxes:[{pos:1,stats:boxCrcE,color:YELLOW},{pos:2,stats:boxCrlmE,color:GREEN}], bracket:bracketE,
  borderColor:'#333', borderWidth:1.2});

// ---- Panel F ----
boxPanel({id:'cF', L:408,T:651,R:697,B:876, wy:35, hx:16, ymin:1.149, ymax:6.034, ticks:yTicksF, labels:yLabelsF,
  groups:groupsF, xpad:2.3, ypad:1, violins:[],
  points:[pointsPosF, pointsNegF], pr:[2.6,2.6], pc:['rgba(90,90,90,0.45)','rgba(90,90,90,0.45)'],
  boxes:[{pos:1,stats:boxPosF,color:YELLOW},{pos:2,stats:boxNegF,color:GREEN}], bracket:bracketF,
  borderColor:'#333', borderWidth:1.2});
</script>
</body></html>
